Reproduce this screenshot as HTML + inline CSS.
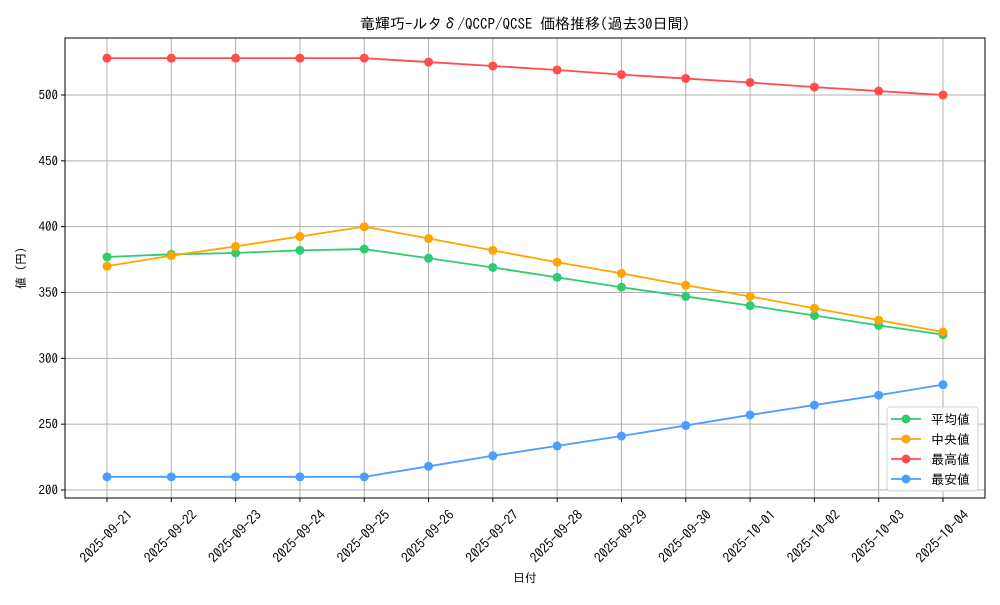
<!DOCTYPE html>
<html><head><meta charset="utf-8"><style>
body{margin:0;background:#fff}
svg text{font-family:"IPAGothic","Liberation Sans","Noto Sans CJK JP",sans-serif;fill:#000}
</style></head><body>
<svg id="c" width="1000" height="600" xmlns="http://www.w3.org/2000/svg"></svg>
<script>
const dates=["2025-09-21","2025-09-22","2025-09-23","2025-09-24","2025-09-25","2025-09-26","2025-09-27","2025-09-28","2025-09-29","2025-09-30","2025-10-01","2025-10-02","2025-10-03","2025-10-04"];
const avgVals=[377,379,380,382,383,376,369,361.5,354,347,340,332.5,325,318];
const medVals=[370,378,385,392.5,400,391,382,373,364.5,355.5,347,338,329,320];
const maxVals=[528,528,528,528,528,525,522,519,515.5,512.5,509.5,506,503,500];
const minVals=[210,210,210,210,210,218,226,233.5,241,249,257,264.5,272,280];
const yTicks=[200,250,300,350,400,450,500];
const seriesNames=["平均値","中央値","最高値","最安値"];
const NS="http://www.w3.org/2000/svg";
const svg=document.getElementById('c');
const L=65,R=985,T=38,B=498;
const x0=107,x1=943;
const X=i=>x0+(x1-x0)*i/(dates.length-1);
const Y=v=>490-(v-200)*(395/300);
function el(t,a,p){const e=document.createElementNS(NS,t);for(const k in a)e.setAttribute(k,a[k]);(p||svg).appendChild(e);return e;}
const g=el('g',{});


dates.forEach((d,i)=>{
  const l=el('line',{x1:X(i),x2:X(i),y1:T,y2:B,stroke:'#b0b0b0','stroke-width':1},g);
  
  
  const tk=el('line',{x1:X(i),x2:X(i),y1:B,y2:B+4,stroke:'#000'});
  
  
  const cx=X(i)-1,cy=536;
  const t=el('text',{x:cx,y:cy,'font-size':13.5,'text-anchor':'middle','dominant-baseline':'central',transform:`rotate(-45 ${cx} ${cy})`});
  t.textContent=d;
  
  
});
yTicks.forEach(v=>{
  const l=el('line',{x1:L,x2:R,y1:Y(v),y2:Y(v),stroke:'#b0b0b0','stroke-width':1},g);
  
  
  const tk=el('line',{x1:L-4,x2:L,y1:Y(v),y2:Y(v),stroke:'#000'});
  
  
  const t=el('text',{x:L-7,y:Y(v)+4.5,'font-size':13,'text-anchor':'end'});
  t.textContent=v;
  
  
});
const frame=el('rect',{x:L,y:T,width:R-L,height:B-T,fill:'none',stroke:'#000','stroke-width':1});


const series=[[avgVals,'#2ecc71'],[medVals,'#ffa500'],[maxVals,'#ff4d4d'],[minVals,'#4a9eff']];
const snames=['series-average','series-median','series-max','series-min'];
series.forEach(([vals,c],si)=>{
  const sg=el('g',{});
  
  
  const p=el('polyline',{points:vals.map((v,i)=>X(i)+','+Y(v)).join(' '),fill:'none',stroke:c,'stroke-width':1.8},sg);
  
  
  vals.forEach((v,i)=>{
    const m=el('circle',{cx:X(i),cy:Y(v),r:4.5,fill:c},sg);
    
    
  });
});
const lg=el('g',{});


el('rect',{x:887,y:407,width:91,height:84,rx:3,fill:'#fff','fill-opacity':0.85,stroke:'#d0d0d0'},lg);
series.forEach(([v,c],i)=>{
  const y=419+i*20;
  const eg=el('g',{},lg);
  
  
  el('line',{x1:891,x2:921,y1:y,y2:y,stroke:c,'stroke-width':1.8},eg);
  el('circle',{cx:906,cy:y,r:4.5,fill:c},eg);
  const t=el('text',{x:931,y:y+5,'font-size':13},eg);
  t.textContent=seriesNames[i];
});
const title=el('text',{x:525,y:29,'font-size':15,'text-anchor':'middle'});
title.textContent='竜輝巧-ルタδ/QCCP/QCSE 価格推移(過去30日間)';


const xt=el('text',{x:525,y:582,'font-size':12,'text-anchor':'middle'});
xt.textContent='日付';


const yt=el('text',{x:25,y:268,'font-size':12,'text-anchor':'middle',transform:'rotate(-90 25 268)'});
yt.textContent='値 (円)';


</script>
</body></html>
